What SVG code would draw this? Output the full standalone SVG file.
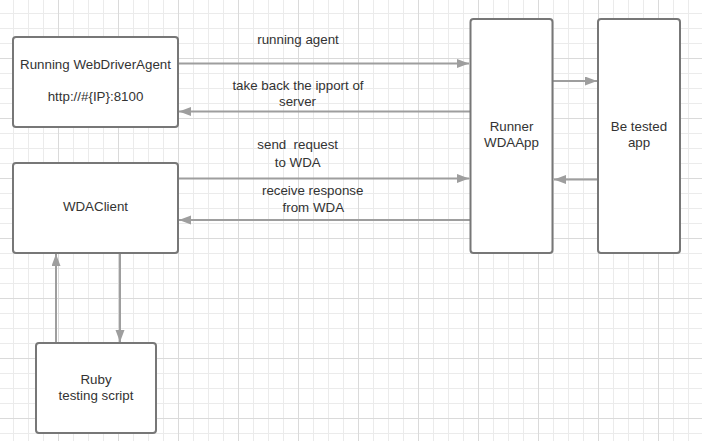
<svg xmlns="http://www.w3.org/2000/svg" width="702" height="441" viewBox="0 0 702 441">
<style>
.box{fill:#ffffff;stroke:#777777;stroke-width:2}
.t{font-family:"Liberation Sans",Arial,sans-serif;font-size:13.33px;fill:#333333;text-anchor:middle}
.c{fill:none;stroke:#9e9e9e;stroke-width:2}
</style>
<defs>
<pattern id="grid" patternUnits="userSpaceOnUse" x="-2" y="-2" width="60" height="60">
<path d="M15.5,0V60M30.5,0V60M45.5,0V60M0,15.5H60M0,30.5H60M0,45.5H60" stroke="#ebebeb" stroke-width="1" fill="none"/>
<path d="M0.5,0V60M0,0.5H60" stroke="#dadada" stroke-width="1" fill="none"/>
</pattern>
<marker id="ah" markerUnits="userSpaceOnUse" markerWidth="13" markerHeight="10" refX="12" refY="4.5" orient="auto">
<path d="M0,0L12,4.5L0,9z" fill="#9e9e9e"/>
</marker>
</defs>
<rect width="702" height="441" fill="#ffffff"/>
<rect width="702" height="441" fill="url(#grid)"/>

<g id="connectors">
<path class="c" d="M178,63.5H469" marker-end="url(#ah)"/>
<path class="c" d="M470,111.5H179" marker-end="url(#ah)"/>
<path class="c" d="M553,81H597" marker-end="url(#ah)"/>
<path class="c" d="M598,179.5H554" marker-end="url(#ah)"/>
<path class="c" d="M178,178.5H469" marker-end="url(#ah)"/>
<path class="c" d="M470,220H179" marker-end="url(#ah)"/>
<path class="c" d="M120,253V342" marker-end="url(#ah)"/>
<path class="c" d="M56,343V254" marker-end="url(#ah)"/>
<text class="t" x="298" y="43.5">running agent</text>
<text class="t" x="298" y="89.5">take back the ipport of</text>
<text class="t" x="297.5" y="105.5">server</text>
<text class="t" x="297.7" y="149.3" xml:space="preserve">send  request</text>
<text class="t" x="297.7" y="166.5">to WDA</text>
<text class="t" x="312.7" y="195">receive response</text>
<text class="t" x="313.3" y="211.5">from WDA</text>
</g>

<g id="node-wda">
<rect class="box" x="13" y="37" width="165" height="90" rx="3"/>
<text class="t" x="95.5" y="69">Running WebDriverAgent</text>
<text class="t" x="95.5" y="101">http://#{IP}:8100</text>
</g>
<g id="node-client">
<rect class="box" x="13" y="163" width="165" height="90" rx="3"/>
<text class="t" x="95.5" y="211">WDAClient</text>
</g>
<g id="node-ruby">
<rect class="box" x="36" y="343" width="120" height="90" rx="3"/>
<text class="t" x="96" y="383.5">Ruby</text>
<text class="t" x="96" y="399.5">testing script</text>
</g>
<g id="node-runner">
<rect class="box" x="470.5" y="19" width="82" height="234" rx="3"/>
<text class="t" x="511.5" y="131">Runner</text>
<text class="t" x="511.5" y="147">WDAApp</text>
</g>
<g id="node-app">
<rect class="box" x="598" y="19" width="82" height="234" rx="3"/>
<text class="t" x="639" y="131">Be tested</text>
<text class="t" x="639" y="147">app</text>
</g>
</svg>
